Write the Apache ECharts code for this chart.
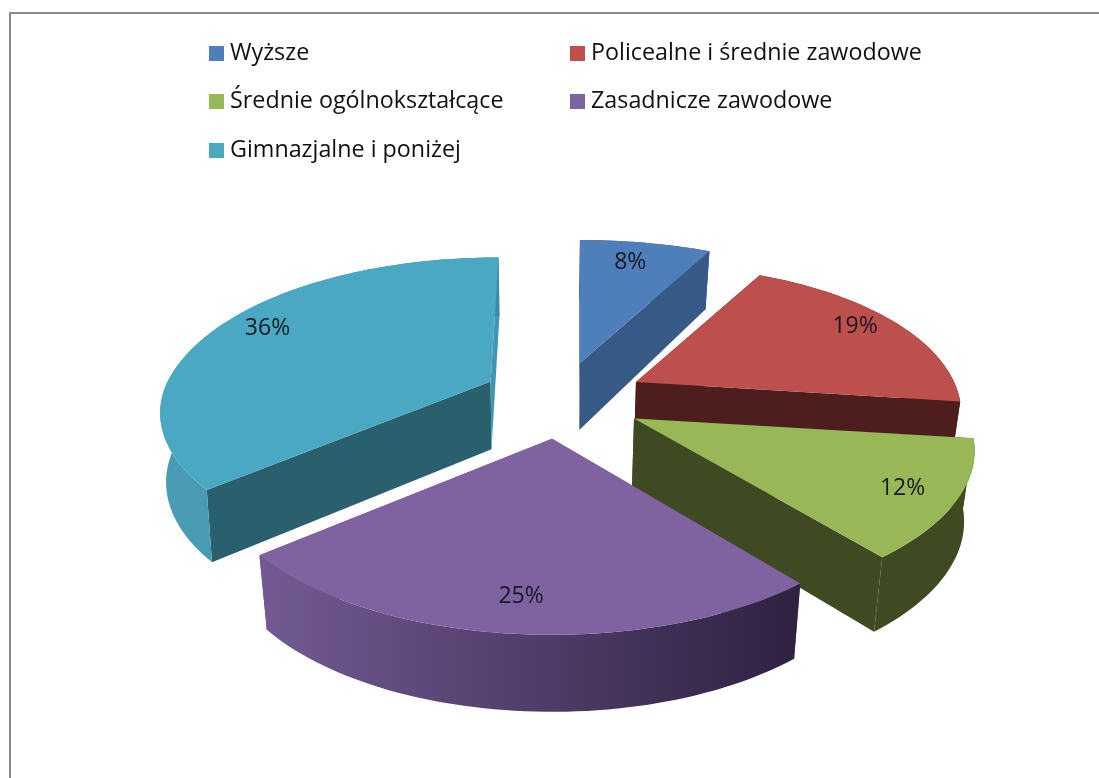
<!DOCTYPE html>
<html>
<head>
<meta charset="utf-8">
<script src="https://cdn.jsdelivr.net/npm/echarts@6/dist/echarts.min.js"></script>
<style>
  html, body { margin: 0; padding: 0; background: #fff; }
  #chart { width: 1099px; height: 778px; }
</style>
</head>
<body>
<div id="chart"></div>
<script>
var categories = ['Wyższe', 'Policealne i średnie zawodowe', 'Średnie ogólnokształcące', 'Zasadnicze zawodowe', 'Gimnazjalne i poniżej']
var shares = [8, 19, 12, 25, 36]

// slice styles, same order as categories
var topColors = ['#4f7fba', '#bd4f4c', '#98b857', '#7f62a0', '#4aa8c3']
var cutColors = ['#365a85', '#4d1e1d', '#3f4a22', '#5c4578', '#2a5f6e']
var wallColors = [['#365a85', '#365a85'], ['#4d1e1d', '#4d1e1d'], ['#3f4a22', '#3f4a22'], ['#735a94', '#2f2140'], ['#4a9db5', '#3d8ba3']]
var explodeX = [0.314, 0.27, 0.268, 0.03, 0.2]
var explodeY = [0.243, 0.18, 0.28, 0.24, 0.2]
var sliceScale = [1, 0.955, 1, 1, 0.97]
var sliceNear = [1, 1, 0.96, 1, 0.96] // height of the near half
var sliceFar = [1, 1, 1, 1, 1.04] // height of the far half
var sliceSkew = [0, 0, 0, 0, 0.065] // far half only
var bottomShrink = [0.975, 0.975, 0.975, 0.975, 0.985]
var labelRadius = [0.83, 0.87, 0.835, 0.81, 0.855]
var labelShift = [-1, -1, 0.5, 0, 0]

// far slices are painted first
var paintOrder = [0, 1, 2, 4, 3]

var cx = 553
var cy = 392
var rx = 333
var ryFar = 123
var ryNear = 196

function rad(deg) {
  return deg * Math.PI / 180
}

function startAngle(i) {
  var sum = 0
  for (var k = 0; k < i; k++) sum += shares[k]
  return sum * 3.6
}

function apexOf(i) {
  var mid = rad(startAngle(i) + shares[i] * 1.8)
  var ry = Math.cos(mid) > 0 ? ryFar : ryNear
  return [cx + explodeX[i] * 345 * Math.sin(mid), cy - explodeY[i] * ry * Math.cos(mid)]
}

// point on the top face, with the far side drawn narrower and flatter
function topPoint(i, deg, r) {
  var a = rad(deg)
  var c = Math.cos(a)
  var apex = apexOf(i)
  var ry = (ryFar + ryNear) / 2 - (ryNear - ryFar) / 2 * c
  var wide = rx * (1 - 0.22 * c)
  var k = r * sliceScale[i]
  var rise = k * ry * c * (c < 0 ? sliceNear[i] : sliceFar[i])
  var lean = c > 0 ? sliceSkew[i] * rise : 0
  return [apex[0] + k * wide * Math.sin(a) + lean, apex[1] - rise]
}

// same point on the bottom face
function lower(i, p) {
  var t = Math.max(0, (p[1] - 255) / 380)
  var depth = 58 + 19 * Math.pow(t, 0.6)
  return [cx + (p[0] - cx) * bottomShrink[i], p[1] + depth]
}

function arcPoints(i, from, to) {
  var pts = []
  var steps = Math.max(2, Math.ceil((to - from) / 1.5))
  for (var s = 0; s <= steps; s++) {
    pts.push(topPoint(i, from + (to - from) * s / steps, 1))
  }
  return pts
}

function renderSlice(i, value) {
  var from = startAngle(i)
  var to = from + value * 3.6
  var apex = apexOf(i)
  var arc = arcPoints(i, from, to)
  var first = arc[0]
  var last = arc[arc.length - 1]
  var bottomArc = arc.map(function (p) {
    return lower(i, p)
  })
  var children = []

  children.push({
    type: 'polygon',
    shape: { points: [apex, first, lower(i, first), lower(i, apex)] },
    style: { fill: cutColors[i] },
  })
  children.push({
    type: 'polygon',
    shape: { points: [apex, last, lower(i, last), lower(i, apex)] },
    style: { fill: i === 4 ? '#3f97af' : cutColors[i] },
  })
  children.push({
    type: 'polygon',
    shape: { points: arc.concat(bottomArc.reverse()) },
    style: {
      fill: new echarts.graphic.LinearGradient(0, 0, 1, 0, [
        { offset: 0, color: wallColors[i][0] },
        { offset: 1, color: wallColors[i][1] },
      ]),
    },
  })
  children.push({
    type: 'polygon',
    shape: { points: [apex].concat(arc) },
    style: { fill: topColors[i] },
  })

  var labelPos = topPoint(i, from + value * 1.8 + labelShift[i], labelRadius[i])
  children.push({
    type: 'text',
    x: labelPos[0],
    y: labelPos[1],
    style: {
      text: value + '%',
      fill: '#141a22',
      font: '23px "Open Sans"',
      align: 'center',
      verticalAlign: 'middle',
    },
  })
  return { type: 'group', children: children }
}

var series = paintOrder.map(function (i) {
  return {
    name: categories[i],
    type: 'custom',
    coordinateSystem: 'none',
    silent: true,
    animation: false,
    itemStyle: { color: topColors[i] },
    data: [shares[i]],
    renderItem: function (params, api) {
      return renderSlice(i, api.value(0))
    },
  }
})

// the legend sits in two columns, one small legend per entry
var legendLeft = [204, 204, 204, 565, 565]
var legendTop = [37, 85, 134, 37, 85]
var legendOf = [0, 3, 1, 4, 2]
var legend = categories.map(function (name, i) {
  var spot = legendOf[i]
  return {
    data: [name],
    left: legendLeft[spot],
    top: legendTop[spot],
    icon: 'rect',
    itemWidth: 15,
    itemHeight: 15,
    selectedMode: false,
    textStyle: { color: '#111', fontSize: 23.3, fontFamily: 'Open Sans', padding: [0, 0, 0, 1] },
  }
})

var myChart = echarts.init(document.getElementById('chart'), null, { renderer: 'canvas' })
myChart.setOption({
  backgroundColor: '#fff',
  animation: false,
  legend: legend,
  graphic: [
    { type: 'rect', shape: { x: 9, y: 12, width: 1090, height: 2 }, style: { fill: '#8a8a8a' } },
    { type: 'rect', shape: { x: 9, y: 12, width: 2, height: 766 }, style: { fill: '#8a8a8a' } },
  ],
  series: series,
})
</script>
</body>
</html>
